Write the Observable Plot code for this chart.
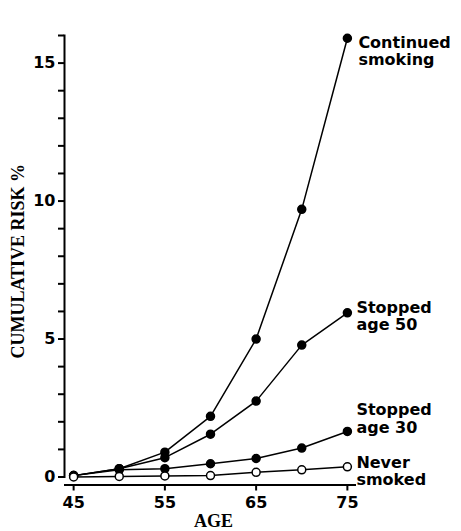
<!DOCTYPE html>
<html><head><meta charset="utf-8">
<script src="https://cdn.jsdelivr.net/npm/d3@7"></script>
<script src="https://cdn.jsdelivr.net/npm/@observablehq/plot@0.6"></script>
<style>body{margin:0;background:#fff}</style>
</head><body><div id="chart"></div>
<script>
const ages = [45, 50, 55, 60, 65, 70, 75];
const continuedSmoking = [0.05, 0.3, 0.9, 2.2, 5.0, 9.7, 15.9];
const stoppedAge50 = [0.05, 0.3, 0.7, 1.55, 2.75, 4.78, 5.95];
const stoppedAge30 = [0.05, 0.26, 0.3, 0.48, 0.67, 1.05, 1.65];
const neverSmoked = [0, 0.02, 0.04, 0.05, 0.17, 0.26, 0.37];
const seriesNames = ["Continued smoking", "Stopped age 50", "Stopped age 30", "Never smoked"];
const seriesLabels = ["Continued\nsmoking", "Stopped\nage 50", "Stopped\nage 30", "Never\nsmoked"];
const xTicks = [45, 55, 65, 75];
const yTicks = [0, 5, 10, 15];
const yMinorTicks = d3.range(0, 17, 1);
const xLabel = "AGE";
const yLabel = "CUMULATIVE RISK %";

const seriesValues = [continuedSmoking, stoppedAge50, stoppedAge30, neverSmoked];
const rows = seriesNames.flatMap((s, i) => ages.map((a, j) => ({series: s, age: a, risk: seriesValues[i][j]})));
const lastRows = seriesNames.map((s, i) => ({series: s, label: seriesLabels[i], age: ages[ages.length - 1], risk: seriesValues[i][ages.length - 1]}));
const labelStyle = [
  {lineAnchor: "top", dy: -3, dx: 11},
  {lineAnchor: "middle", dy: 3, dx: 9},
  {lineAnchor: "middle", dy: -13, dx: 9},
  {lineAnchor: "middle", dy: 4, dx: 9}
];

const chart = Plot.plot({
  width: 461, height: 531,
  marginLeft: 64, marginRight: 105, marginTop: 35, marginBottom: 54.5,
  x: {domain: [44, 76]},
  y: {domain: [0, 16]},
  style: {fontFamily: "DejaVu Sans", fontSize: "16px", fontWeight: "bold", color: "black", background: "white"},
  marks: [
    Plot.axisY(yMinorTicks, {tickSize: 6, tickPadding: 3, tickFormat: d => yTicks.includes(d) ? String(d) : "", label: null, strokeWidth: 2, strokeOpacity: 1}),
    Plot.frame({anchor: "left", strokeWidth: 2}),
    Plot.axisX(xTicks, {tickSize: 6, dy: 8, tickPadding: 6, label: null, strokeWidth: 2}),
    Plot.ruleY([0], {dy: 8, strokeWidth: 2}),
    Plot.line(rows, {x: "age", y: "risk", z: "series", stroke: "black", strokeWidth: 1.5}),
    Plot.dot(rows.filter(d => d.series !== "Never smoked"), {x: "age", y: "risk", r: 4, fill: "black", stroke: "black"}),
    Plot.dot(rows.filter(d => d.series === "Never smoked"), {x: "age", y: "risk", r: 4, fill: "white", stroke: "black", strokeWidth: 1.5}),
    ...lastRows.map((d, i) => Plot.text([d], {x: "age", y: "risk", text: "label", textAnchor: "start", lineHeight: 1.1, ...labelStyle[i]})),
    Plot.text([yLabel], {frameAnchor: "left", textAnchor: "middle", lineAnchor: "middle", rotate: -90, dx: -46, dy: 5, fontFamily: "Liberation Serif", fontSize: 18, fontWeight: "bold"}),
    Plot.text([xLabel], {frameAnchor: "bottom", lineAnchor: "middle", dy: 44, dx: 3, fontFamily: "Liberation Serif", fontSize: 18, fontWeight: "bold"})
  ]
});
document.getElementById("chart").append(chart);
</script>
</body></html>
